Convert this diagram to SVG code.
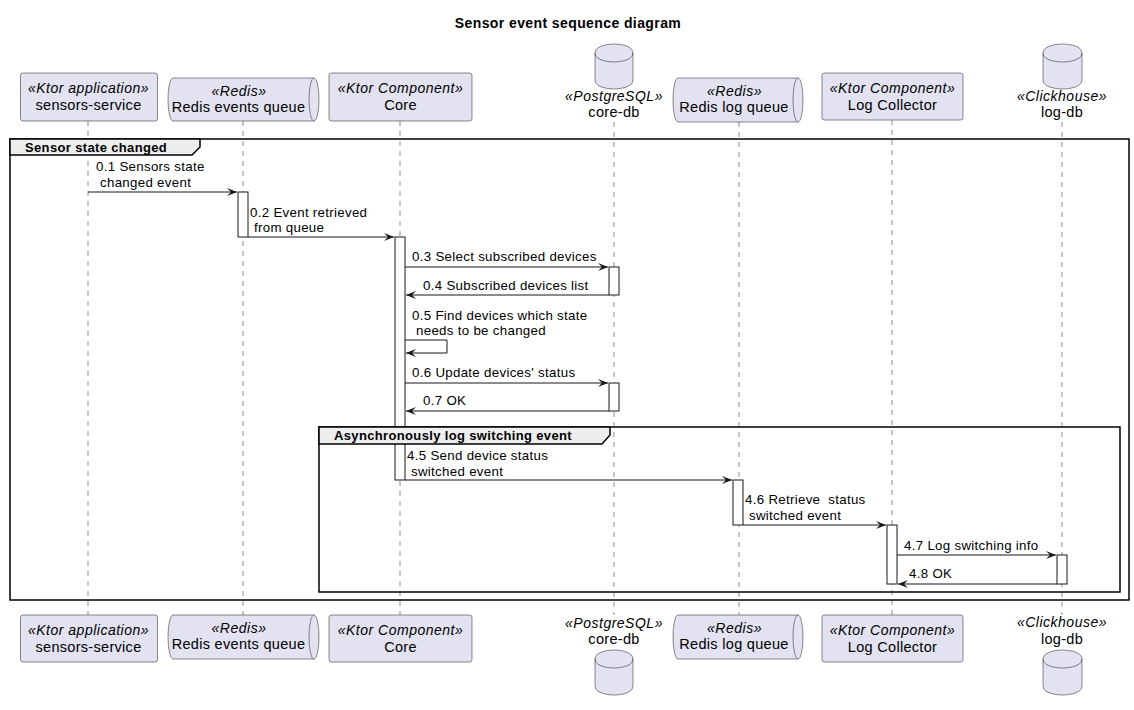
<svg xmlns="http://www.w3.org/2000/svg" width="1134" height="710" viewBox="0 0 1134 710">
<defs>
<style>
text{font-family:"Liberation Sans",Arial,sans-serif;fill:#000}
.title{font-size:14px;font-weight:bold;letter-spacing:0.4px}
.pname{font-size:14.5px;font-style:normal;letter-spacing:0.3px}
.pst{font-size:14px;font-style:italic;letter-spacing:0.5px}
.plabel{text-anchor:middle}
.msg{font-size:13.3px;letter-spacing:0.3px}
.glabel{font-size:13px;font-weight:bold;letter-spacing:0.35px}
.box{fill:#E2E2F0;stroke:#181818;stroke-width:0.5}
.life{stroke:#181818;stroke-width:0.5;stroke-dasharray:5,5;fill:none}
.act{fill:#FFFFFF;stroke:#181818;stroke-width:1}
.line{stroke:#181818;stroke-width:1;fill:none}
.frame{fill:none;stroke:#000;stroke-width:1.5}
.tab{fill:#EEEEEE;stroke:#000;stroke-width:1.5}
</style>
<marker id="arr" viewBox="0 0 10 8" refX="10" refY="4" markerWidth="10" markerHeight="8" orient="auto" markerUnits="userSpaceOnUse">
<path d="M0,0 L10,4 L0,8 L4,4 Z" fill="#181818"/>
</marker>
</defs>
<rect width="1134" height="710" fill="#FFFFFF"/>
<text class="title" x="568" y="28" text-anchor="middle">Sensor event sequence diagram</text>

<g id="lifelines">
<line class="life" x1="88" y1="121" x2="88" y2="615"/>
<line class="life" x1="243" y1="121" x2="243" y2="615"/>
<line class="life" x1="400" y1="121" x2="400" y2="615"/>
<line class="life" x1="614" y1="122" x2="614" y2="615"/>
<line class="life" x1="739" y1="122" x2="739" y2="615"/>
<line class="life" x1="892" y1="120" x2="892" y2="615"/>
<line class="life" x1="1062" y1="122" x2="1062" y2="615"/>
</g>

<g id="activations">
<rect class="act" x="238" y="192" width="10" height="45"/>
<rect class="act" x="395" y="237" width="10" height="243"/>
<rect class="act" x="609" y="267" width="10" height="28"/>
<rect class="act" x="609" y="383" width="10" height="28"/>
<rect class="act" x="733" y="480" width="10" height="45"/>
<rect class="act" x="887" y="525" width="10" height="59"/>
<rect class="act" x="1057" y="555" width="10" height="29"/>
</g>

<g id="frames">
<rect class="frame" x="10" y="139" width="1119" height="461"/>
<polygon class="tab" points="10,139 200,139 200,147 192,155 10,155"/>
<text class="glabel" x="25" y="152">Sensor state changed</text>
<rect class="frame" x="319" y="427" width="801" height="165"/>
<polygon class="tab" points="319,427 610,427 610,435 602,444 319,444"/>
<text class="glabel" x="334" y="440">Asynchronously log switching event</text>
</g>

<g id="p-sensors-service">
<rect class="box" x="20.5" y="73" width="137" height="48" rx="2.5"/>
<text class="plabel"><tspan class="pst" x="88.5" y="93">«Ktor application»</tspan><tspan class="pname" x="88.5" y="110">sensors-service</tspan></text>
<rect class="box" x="20.5" y="615" width="137" height="47" rx="2.5"/>
<text class="plabel"><tspan class="pst" x="88.5" y="635">«Ktor application»</tspan><tspan class="pname" x="88.5" y="652">sensors-service</tspan></text>
</g>

<g id="p-redis-events-queue">
<path class="box" d="M173,78 H314 A5,21.5 0 0 1 314,121 H173 A5,21.5 0 0 1 173,78 Z"/>
<path class="box" d="M314,78 A5,21.5 0 0 0 314,121"/>
<text class="plabel"><tspan class="pst" x="239" y="96">«Redis»</tspan><tspan class="pname" x="238.5" y="112">Redis events queue</tspan></text>
<path class="box" d="M173,615 H314 A5,22 0 0 1 314,659 H173 A5,22 0 0 1 173,615 Z"/>
<path class="box" d="M314,615 A5,22 0 0 0 314,659"/>
<text class="plabel"><tspan class="pst" x="239" y="633">«Redis»</tspan><tspan class="pname" x="238.5" y="649">Redis events queue</tspan></text>
</g>

<g id="p-core">
<rect class="box" x="329" y="73" width="143" height="48" rx="2.5"/>
<text class="plabel"><tspan class="pst" x="400.5" y="93">«Ktor Component»</tspan><tspan class="pname" x="400.5" y="110">Core</tspan></text>
<rect class="box" x="329" y="615" width="143" height="47" rx="2.5"/>
<text class="plabel"><tspan class="pst" x="400.5" y="635">«Ktor Component»</tspan><tspan class="pname" x="400.5" y="652">Core</tspan></text>
</g>

<g id="p-core-db">
<path class="box" d="M595,53 C595,44 614,44 614,44 C614,44 633,44 633,53 L633,80 C633,89 614,89 614,89 C614,89 595,89 595,80 Z"/>
<path class="box" style="fill:none" d="M595,53 C595,62 614,62 614,62 C614,62 633,62 633,53"/>
<text class="plabel"><tspan class="pst" x="614" y="101">«PostgreSQL»</tspan><tspan class="pname" x="614" y="117">core-db</tspan></text>
<text class="plabel"><tspan class="pst" x="614" y="628">«PostgreSQL»</tspan><tspan class="pname" x="614" y="644">core-db</tspan></text>
<path class="box" d="M595,659 C595,650 614,650 614,650 C614,650 633,650 633,659 L633,686 C633,695 614,695 614,695 C614,695 595,695 595,686 Z"/>
<path class="box" style="fill:none" d="M595,659 C595,668 614,668 614,668 C614,668 633,668 633,659"/>
</g>

<g id="p-redis-log-queue">
<path class="box" d="M678,78 H798 A5,22 0 0 1 798,122 H678 A5,22 0 0 1 678,78 Z"/>
<path class="box" d="M798,78 A5,22 0 0 0 798,122"/>
<text class="plabel"><tspan class="pst" x="734.5" y="96">«Redis»</tspan><tspan class="pname" x="734" y="112">Redis log queue</tspan></text>
<path class="box" d="M678,615 H798 A5,22 0 0 1 798,659 H678 A5,22 0 0 1 678,615 Z"/>
<path class="box" d="M798,615 A5,22 0 0 0 798,659"/>
<text class="plabel"><tspan class="pst" x="734.5" y="633">«Redis»</tspan><tspan class="pname" x="734" y="649">Redis log queue</tspan></text>
</g>

<g id="p-log-collector">
<rect class="box" x="822" y="73" width="141" height="47" rx="2.5"/>
<text class="plabel"><tspan class="pst" x="892.5" y="93">«Ktor Component»</tspan><tspan class="pname" x="892.5" y="110">Log Collector</tspan></text>
<rect class="box" x="822" y="615" width="141" height="47" rx="2.5"/>
<text class="plabel"><tspan class="pst" x="892.5" y="635">«Ktor Component»</tspan><tspan class="pname" x="892.5" y="652">Log Collector</tspan></text>
</g>

<g id="p-log-db">
<path class="box" d="M1043,53 C1043,44 1062.5,44 1062.5,44 C1062.5,44 1082,44 1082,53 L1082,80 C1082,89 1062.5,89 1062.5,89 C1062.5,89 1043,89 1043,80 Z"/>
<path class="box" style="fill:none" d="M1043,53 C1043,62 1062.5,62 1062.5,62 C1062.5,62 1082,62 1082,53"/>
<text class="plabel"><tspan class="pst" x="1062" y="101">«Clickhouse»</tspan><tspan class="pname" x="1062" y="117">log-db</tspan></text>
<text class="plabel"><tspan class="pst" x="1062" y="627">«Clickhouse»</tspan><tspan class="pname" x="1062" y="644">log-db</tspan></text>
<path class="box" d="M1043,659 C1043,650 1062.5,650 1062.5,650 C1062.5,650 1082,650 1082,659 L1082,686 C1082,695 1062.5,695 1062.5,695 C1062.5,695 1043,695 1043,686 Z"/>
<path class="box" style="fill:none" d="M1043,659 C1043,668 1062.5,668 1062.5,668 C1062.5,668 1082,668 1082,659"/>
</g>

<g id="connectors">
<line class="line" x1="88" y1="192" x2="237" y2="192" marker-end="url(#arr)"/>
<line class="line" x1="248" y1="237" x2="394" y2="237" marker-end="url(#arr)"/>
<line class="line" x1="405" y1="267" x2="608" y2="267" marker-end="url(#arr)"/>
<line class="line" x1="609" y1="295" x2="406" y2="295" marker-end="url(#arr)"/>
<polyline class="line" points="405,340 447,340 447,353 406,353" marker-end="url(#arr)"/>
<line class="line" x1="405" y1="383" x2="608" y2="383" marker-end="url(#arr)"/>
<line class="line" x1="609" y1="411" x2="406" y2="411" marker-end="url(#arr)"/>
<line class="line" x1="405" y1="480" x2="732" y2="480" marker-end="url(#arr)"/>
<line class="line" x1="743" y1="525" x2="886" y2="525" marker-end="url(#arr)"/>
<line class="line" x1="897" y1="555" x2="1056" y2="555" marker-end="url(#arr)"/>
<line class="line" x1="1057" y1="584" x2="898" y2="584" marker-end="url(#arr)"/>
</g>

<g id="labels">
<text class="msg"><tspan x="96" y="171">0.1 Sensors state</tspan><tspan x="100" y="187">changed event</tspan></text>
<text class="msg"><tspan x="250" y="216.5">0.2 Event retrieved</tspan><tspan x="254" y="232">from queue</tspan></text>
<text class="msg" x="412" y="261">0.3 Select subscribed devices</text>
<text class="msg" x="423" y="290">0.4 Subscribed devices list</text>
<text class="msg"><tspan x="412" y="319.5">0.5 Find devices which state</tspan><tspan x="416" y="335">needs to be changed</tspan></text>
<text class="msg" x="412" y="377">0.6 Update devices' status</text>
<text class="msg" x="423" y="405">0.7 OK</text>
<text class="msg"><tspan x="407" y="460">4.5 Send device status</tspan><tspan x="411" y="475.5">switched event</tspan></text>
<text class="msg" style="white-space:pre"><tspan x="745" y="504">4.6 Retrieve  status</tspan><tspan x="749" y="520">switched event</tspan></text>
<text class="msg" x="904" y="550">4.7 Log switching info</text>
<text class="msg" x="909" y="578">4.8 OK</text>
</g>
</svg>
